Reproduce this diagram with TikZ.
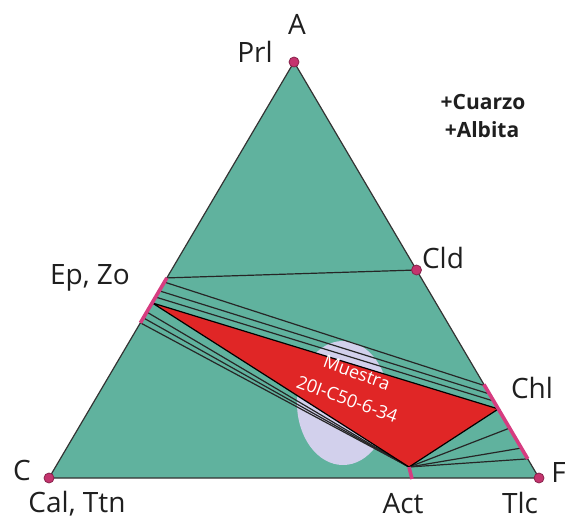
\documentclass[tikz,border=0pt]{standalone}
\usepackage{fontspec}
\setmainfont{Open Sans}
\usetikzlibrary{positioning, calc}

\definecolor{phase}{RGB}{96,178,158}
\definecolor{sample}{RGB}{224,38,38}
\definecolor{solid}{RGB}{214,60,128}
\definecolor{dotc}{RGB}{196,52,110}
\definecolor{haze}{RGB}{210,208,236}

\begin{document}
\begin{tikzpicture}[
  x=0.5pt, y=-0.5pt,
  font=\fontsize{14}{16}\selectfont,
  lbl/.style={inner sep=0pt, anchor=base, text=black!88},
  note/.style={inner sep=0pt, anchor=base, font=\fontsize{10.5}{12}\selectfont\bfseries, text=black!88},
  vdot/.style={circle, fill=dotc, draw=dotc!70!black, line width=0.4pt, inner sep=0pt, minimum size=5pt},
  tie/.style={line width=0.6pt, draw=black!85},
  solsol/.style={line width=1.8pt, draw=solid},
  samp/.style={fill=sample, draw=black, line width=0.6pt, line join=round},
]
\useasboundingbox[fill=white] (0,0) rectangle (565,518);

% ---- corners of the diagram ----
\coordinate (A) at (294,62);
\coordinate (C) at (49,478);
\coordinate (F) at (539,478);
\fill[phase] (A) -- (C) -- (F) -- cycle;

% ---- haze behind the sample field ----
\fill[haze] (343,403) ellipse [x radius=23pt, y radius=31pt];

% ---- points along the edges ----
\coordinate (ep1) at ($(C)!0.481!(A)$);
\coordinate (ep2) at ($(C)!0.471!(A)$);
\coordinate (ep3) at ($(C)!0.450!(A)$);
\coordinate (ep4) at ($(C)!0.435!(A)$);
\coordinate (ep5) at ($(C)!0.421!(A)$);
\coordinate (ep6) at ($(C)!0.399!(A)$);
\coordinate (ep7) at ($(C)!0.385!(A)$);
\coordinate (ep8) at ($(C)!0.373!(A)$);
\coordinate (cld) at ($(A)!0.500!(F)$);
\coordinate (ch0) at ($(A)!0.775!(F)$);
\coordinate (ch1) at ($(A)!0.778!(F)$);
\coordinate (ch2) at ($(A)!0.798!(F)$);
\coordinate (ch3) at ($(A)!0.815!(F)$);
\coordinate (ch4) at ($(A)!0.834!(F)$);
\coordinate (ch5) at ($(A)!0.880!(F)$);
\coordinate (ch6) at ($(A)!0.928!(F)$);
\coordinate (ch7) at ($(A)!0.954!(F)$);
\coordinate (act) at (409,467);
\coordinate (actb) at (412,479);

% ---- tie lines ----
\draw[tie] (ep1) -- (cld);
\draw[tie] (ep2) -- (ch1);
\draw[tie] (ep3) -- (ch2);
\draw[tie] (ep4) -- (ch3);
\draw[tie] (ep6) -- (act);
\draw[tie] (ep7) -- (act);
\draw[tie] (ep8) -- (act);
\draw[tie] (act) -- (ch5);
\draw[tie] (act) -- (ch6);
\draw[tie] (act) -- (ch7);

% ---- sample field ----
\draw[samp] (ep5) -- (ch4) -- (act) -- cycle;
\node[text=white, font=\fontsize{9}{11}\selectfont, rotate=-20, align=center, inner sep=0pt]
  (muestra) at (352,386) {Muestra\\[3pt]20I-C50-6-34};

% ---- outline ----
\draw[line width=0.6pt, draw=black!80, line join=round] (A) -- (C) -- (F) -- cycle;

% ---- solid solutions ----
\draw[solsol] (ep1) -- (ep8);
\draw[solsol] (ch0) -- (ch7);
\draw[solsol] (act) -- (actb);

% ---- end members ----
\node[vdot] (dA) at (A) {};
\node[vdot] (dC) at (C) {};
\node[vdot] (dF) at (F) {};
\node[vdot] (dCld) at (cld) {};

% ---- labels ----
\node[lbl] (lA) at (297,35) {A};
\node[lbl] (lPrl) at (255,63) {Prl};
\node[lbl] (lCld) at (443,268) {Cld};
\node[lbl] (lEp) at (90,284) {Ep, Zo};
\node[lbl] (lChl) at (532,398) {Chl};
\node[lbl] (lC) at (22,480) {C};
\node[lbl, anchor=base west] (lF) at (551,482) {F};
\node[lbl] (lCal) at (77,512) {Cal, Ttn};
\node[lbl] (lAct) at (403,513) {Act};
\node[lbl] (lTlc) at (520,513) {Tlc};
\node[note] (qz) at (483,110) {+Cuarzo};
\node[note] (ab) at (482,137) {+Albita};

\end{tikzpicture}
\end{document}
